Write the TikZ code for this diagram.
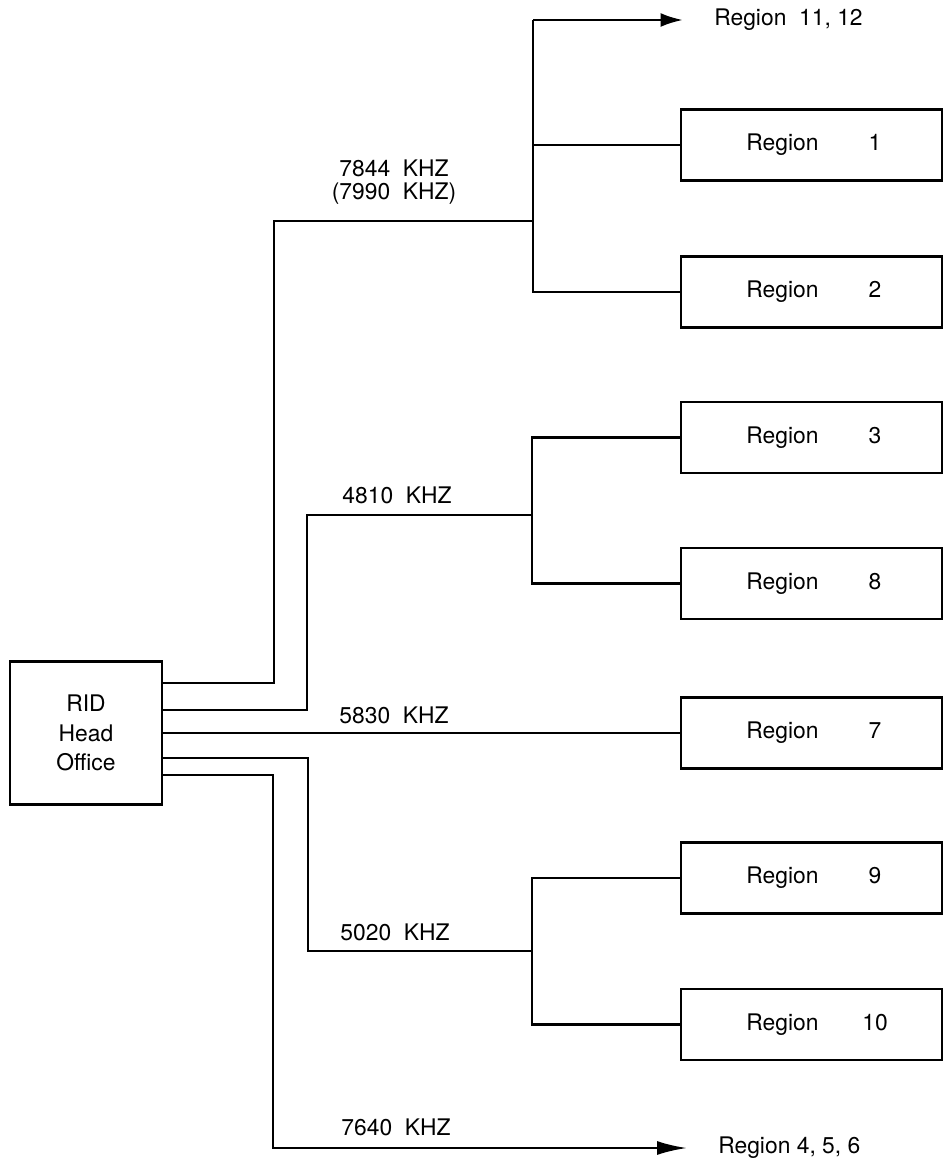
\documentclass[tikz,border=0pt]{standalone}
\usepackage{fontspec}
\setmainfont{TeX Gyre Heros}
\usetikzlibrary{arrows.meta, positioning, calc}
\tikzset{
  every picture/.style={line width=1.5pt},
  every node/.style={font=\fontsize{13}{17}\selectfont},
  box/.style={draw, inner sep=0pt, minimum width=5.22cm, minimum height=1.42cm},
  hq/.style={draw, inner sep=0pt, minimum width=3.04cm, minimum height=2.86cm, align=center},
  freq/.style={inner sep=0pt},
  dest/.style={inner sep=0pt, anchor=west},
  tip/.style={-{Latex[length=#1, width=2.8mm]}, shorten >=0.6cm},
  tip/.default=5mm,
}
\newcommand{\reg}[1]{\hspace{0.22cm}Region\hspace{0.88cm}\makebox[0.5cm]{#1}}

\begin{document}
\begin{tikzpicture}[x=0.02cm, y=-0.02cm]
  \useasboundingbox (0,0) rectangle (943,1165);
  % head office and regions
  \node[hq] (ho) at (86,733) {RID\\Head\\Office};
  \foreach \n/\y in {1/145, 2/292, 3/437.5, 8/583.5, 7/733, 9/878, 10/1024.5}
    \node[box] (r\n) at (811.5,\y) {\reg{\n}};
  \node[dest] (o1) at (713,20) {Region~ 11, 12};
  \node[dest] (o2) at (717,1148) {Region 4, 5, 6};
  % frequencies
  \node[freq] (f1) at (394,168) {7844~ KHZ};
  \node[freq] (f2) at (394,194) {(7990~ KHZ)};
  \node[freq] (f3) at (397,495) {4810~ KHZ};
  \node[freq] (f4) at (394,715) {5830~ KHZ};
  \node[freq] (f5) at (395,932) {5020~ KHZ};
  \node[freq] (f6) at (396,1127) {7640~ KHZ};
  % corners and junctions
  \coordinate (k1) at (274,221);  \coordinate (j1) at (533,221);
  \coordinate (a1) at (533,20);
  \coordinate (k2) at (307,515);  \coordinate (b1) at (532,515);
  \coordinate (k4) at (308,951);  \coordinate (c1) at (532,951);
  \coordinate (k5) at (273,1148);
  % 7844 kHz
  \draw ([yshift=1.0cm]ho.east) -| (k1) -- (j1);
  \draw[tip=4.5mm] (a1) -- (o1.west);
  \draw (a1) |- (r2.west);
  \draw (r1.west) -- (r1.west -| a1);
  % 4810 kHz
  \draw ([yshift=0.46cm]ho.east) -| (k2) -- (b1);
  \draw (r3.west) -| (b1) |- (r8.west);
  % 5830 kHz
  \draw (ho.east) -- (r7.west);
  % 5020 kHz
  \draw ([yshift=-0.5cm]ho.east) -| (k4) -- (c1);
  \draw (r9.west) -| (c1) |- (r10.west);
  % 7640 kHz
  \draw[tip=6mm] ([yshift=-0.84cm]ho.east) -| (k5) -- (o2.west);
\end{tikzpicture}
\end{document}
